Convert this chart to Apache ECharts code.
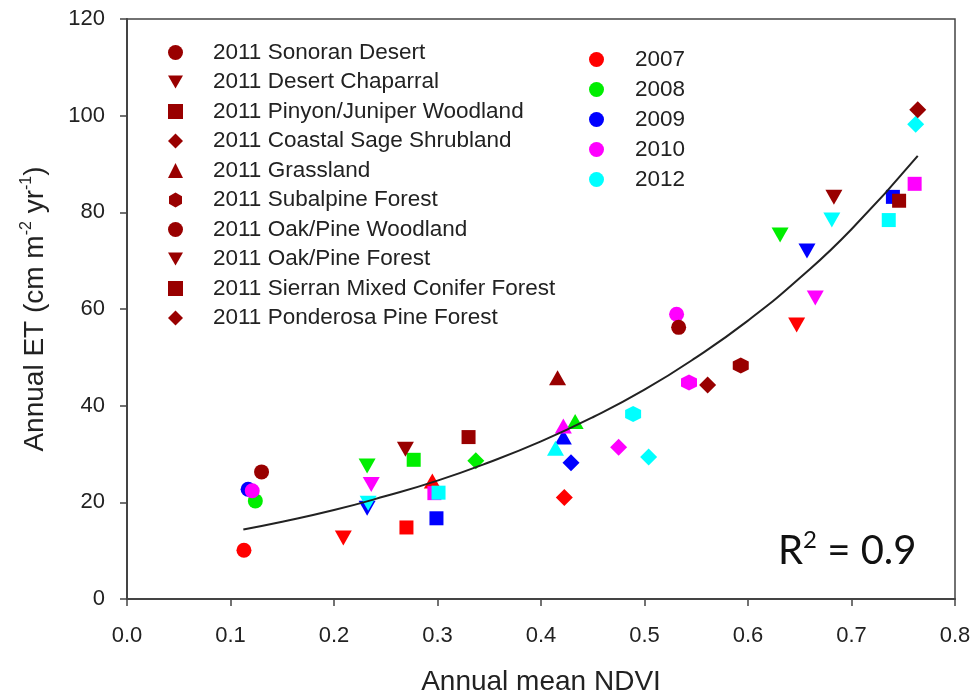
<!DOCTYPE html>
<html><head><meta charset="utf-8">
<script src="https://cdn.jsdelivr.net/npm/echarts/dist/echarts.min.js"></script>
<style>html,body{margin:0;padding:0;background:#fff}#c{width:976px;height:695px}</style>
</head><body><div id="c"></div>
<script>
// ---- data ----
const sites = ['Sonoran Desert','Desert Chaparral','Pinyon/Juniper Woodland','Coastal Sage Shrubland','Grassland','Subalpine Forest','Oak/Pine Woodland','Oak/Pine Forest','Sierran Mixed Conifer Forest','Ponderosa Pine Forest'];
const ndvi2011 = [0.130,0.269,0.330,0.561,0.416,0.593,0.533,0.683,0.746,0.764];
const et2011   = [26.3,31.0,33.5,44.3,45.8,48.3,56.2,83.1,82.4,101.2];
const otherYears = ['2007','2008','2009','2010','2012'];
// rows: [site index, annual mean NDVI, annual ET]
const data2007 = [[0,0.113,10.1],[1,0.209,12.6],[2,0.270,14.8],[4,0.295,24.4],[3,0.4225,21.0],[7,0.647,56.7]];
const data2008 = [[0,0.124,20.3],[1,0.232,27.5],[2,0.277,28.8],[3,0.337,28.6],[4,0.433,36.7],[7,0.631,75.3]];
const data2009 = [[0,0.117,22.7],[1,0.232,18.8],[2,0.299,16.7],[4,0.4216,33.5],[3,0.429,28.2],[7,0.657,72.0],[8,0.740,83.2]];
const data2010 = [[0,0.121,22.4],[1,0.236,23.7],[2,0.297,21.9],[4,0.4216,35.8],[3,0.475,31.4],[6,0.531,58.9],[5,0.543,44.8],[7,0.665,62.3],[8,0.761,85.9]];
const data2012 = [[1,0.233,19.8],[2,0.301,22.0],[4,0.414,31.2],[5,0.489,38.3],[3,0.504,29.4],[7,0.681,78.4],[8,0.736,78.4],[9,0.762,98.2]];
// fitted curve
const fitNdvi = [0.1124,0.15,0.2,0.25,0.3,0.35,0.4,0.45,0.5,0.55,0.6,0.65,0.7,0.764];
const fitEt   = [14.4,16.0,18.4,21.3,24.5,28.3,32.6,37.6,43.3,50.0,57.6,66.4,76.5,91.7];
const xTicks = [0,0.1,0.2,0.3,0.4,0.5,0.6,0.7,0.8];
const yTicks = [0,20,40,60,80,100,120];

// ---- styles ----
const DOWN = 'path://M0,0L20,0L10,17.5Z';
const HEX = 'path://M10,0L18.66,5L18.66,15L10,20L1.34,15L1.34,5Z';
const siteSymbols = ['circle',DOWN,'rect','diamond','triangle',HEX,'circle',DOWN,'rect','diamond'];
const siteSizes = [15,[17,15],14,17,[17,15],16,15,[17,15],14,17];
const yearColors = {'2007':'#ff0000','2008':'#00ee00','2009':'#0000ff','2010':'#ff00ff','2012':'#00ffff'};
const darkRed = '#990000';
const FONT = 'Liberation Sans, Arial, sans-serif';
const yearData = {'2007':data2007,'2008':data2008,'2009':data2009,'2010':data2010,'2012':data2012};

const series = [];
otherYears.forEach(y => {
  series.push({
    name: y, type: 'scatter', symbol: 'circle', symbolSize: 15,
    itemStyle: {color: yearColors[y], opacity: 1},
    data: yearData[y].map(r => ({value: [r[1], r[2]], symbol: siteSymbols[r[0]], symbolSize: siteSizes[r[0]]}))
  });
});
sites.forEach((s, k) => {
  series.push({
    name: '2011 ' + s, type: 'scatter', symbol: siteSymbols[k], symbolSize: siteSizes[k],
    itemStyle: {color: darkRed, opacity: 1},
    data: [[ndvi2011[k], et2011[k]]]
  });
});
series.push({
  name: 'fit', type: 'line', smooth: true, symbol: 'none', z: 5,
  lineStyle: {color: '#222', width: 2},
  data: fitNdvi.map((x, i) => [x, fitEt[i]])
});

const chart = echarts.init(document.getElementById('c'), null, {renderer: 'canvas'});
chart.setOption({
  animation: false,
  backgroundColor: '#fff',
  grid: {left: 127, right: 21, top: 19, bottom: 96, outerBoundsMode: 'none', containLabel: false,
         show: true, borderColor: '#444', borderWidth: 1.5, backgroundColor: 'transparent'},
  xAxis: {
    type: 'value', min: xTicks[0], max: xTicks[xTicks.length-1], interval: 0.1,
    name: 'Annual mean NDVI', nameLocation: 'middle', nameGap: 69,
    nameTextStyle: {fontSize: 28, color: '#222', fontFamily: FONT},
    axisLine: {lineStyle: {color: '#444', width: 2}},
    axisTick: {length: 7, lineStyle: {color: '#444', width: 1.5}},
    axisLabel: {fontSize: 22, color: '#222', fontFamily: FONT, margin: 26, formatter: v => v.toFixed(1)},
    splitLine: {show: false}
  },
  yAxis: {
    type: 'value', min: yTicks[0], max: yTicks[yTicks.length-1], interval: 20,
    name: '{a|Annual ET (cm m}{s|-2}{a| yr}{s|-1}{a|)}', nameLocation: 'middle', nameGap: 76, nameRotate: 90,
    nameTextStyle: {fontSize: 28, color: '#222', fontFamily: FONT,
      rich: {a: {fontSize: 28, color: '#222', fontFamily: FONT, lineHeight: 32}, s: {fontSize: 16, color: '#222', fontFamily: FONT, verticalAlign: 'top', lineHeight: 32}}},
    axisLine: {show: true, lineStyle: {color: '#444', width: 2}},
    axisTick: {show: true, length: 7, lineStyle: {color: '#444', width: 1.5}},
    axisLabel: {fontSize: 22, color: '#222', fontFamily: FONT, margin: 22},
    splitLine: {show: false}
  },
  legend: [
    {orient: 'vertical', left: 163, top: 36, itemGap: 6.5, itemWidth: 15, itemHeight: 15, selectedMode: false,
     data: sites.map(s => '2011 ' + s),
     textStyle: {fontSize: 22.5, lineHeight: 22, color: '#222', fontFamily: FONT, padding: [0,0,0,25]}},
    {orient: 'vertical', left: 584, top: 43, itemGap: 7, itemWidth: 15, itemHeight: 15, selectedMode: false,
     data: otherYears,
     textStyle: {fontSize: 22.5, lineHeight: 22, color: '#222', fontFamily: FONT, padding: [0,0,0,26]}}
  ],
  graphic: [{
    type: 'text', left: 778, top: 528,
    style: {text: '{a|R}{s|2}{a| = 0.9}', rich: {
      a: {fontSize: 40, fontFamily: 'Lato, Open Sans, sans-serif', fill: '#111', lineHeight: 46},
      s: {fontSize: 24, fontFamily: 'Lato, Open Sans, sans-serif', fill: '#111', verticalAlign: 'top', lineHeight: 46}
    }}
  }],
  series: series
});
</script>
</body></html>
